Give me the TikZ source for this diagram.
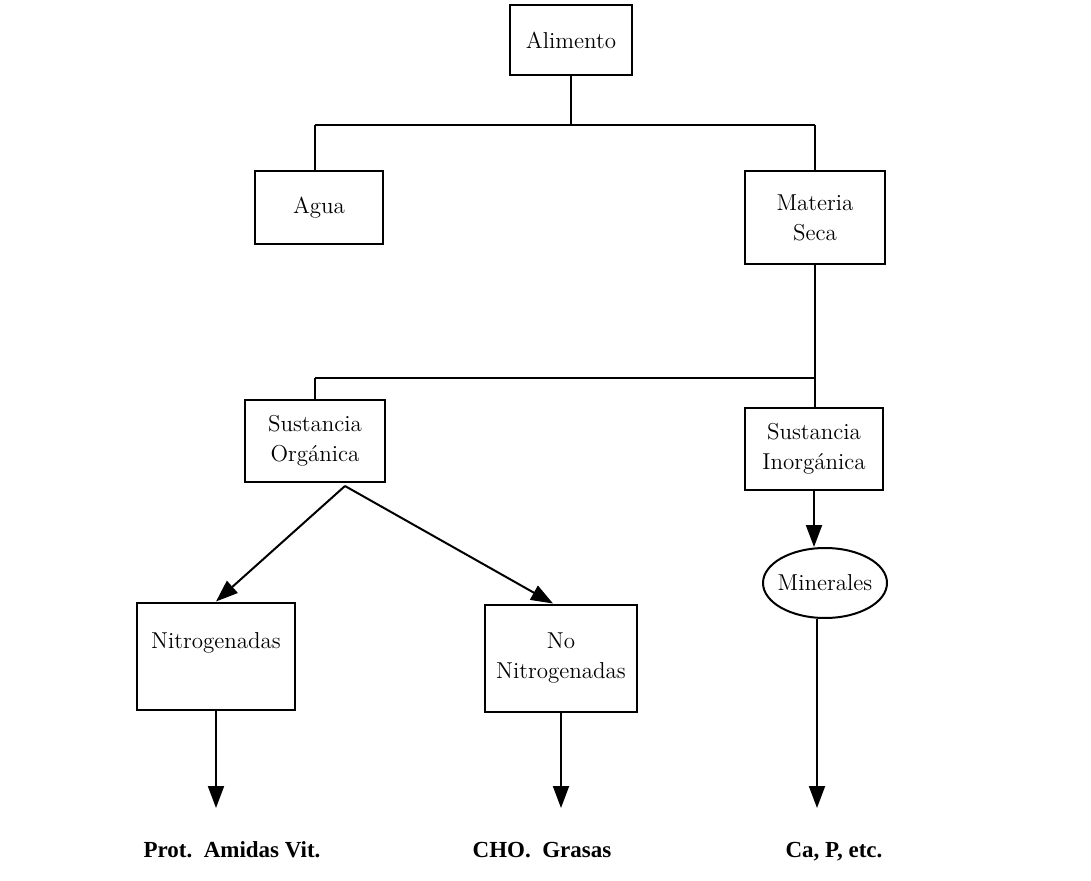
\documentclass[tikz,border=0pt]{standalone}
\usepackage{fontspec}
\newfontfamily\leaffont{Liberation Serif}
\usetikzlibrary{arrows.meta,shapes.geometric}
\begin{document}
\begin{tikzpicture}[x=0.5pt,y=-0.5pt,
  box/.style={draw,line width=1pt,rectangle,inner sep=0pt,align=center,
              font=\fontsize{11.5}{15}\selectfont},
  oval/.style={draw,line width=1pt,ellipse,inner sep=0pt,
              font=\fontsize{11.5}{15}\selectfont},
  link/.style={line width=1pt},
  arr/.style={line width=1pt,-{Triangle[length=11pt,width=8pt]}},
  leaf/.style={inner sep=0pt,anchor=base,font=\leaffont\bfseries\fontsize{11.5}{13}\selectfont}]
\useasboundingbox[fill=white] (0,0) rectangle (1091,881);

% boxes
\node[box,minimum width=61pt,minimum height=35pt]   (alim)  at (571,40)  {Alimento};
\node[box,minimum width=64pt,minimum height=36.5pt] (agua)  at (319,208) {Agua};
\node[box,minimum width=70pt,minimum height=46.5pt] (mat)   at (815,218) {Materia\\Seca};
\node[box,minimum width=70pt,minimum height=41pt]   (org)   at (315,441) {Sustancia\\Orgánica};
\node[box,minimum width=69pt,minimum height=41pt]   (inorg) at (814,449) {Sustancia\\Inorgánica};
\node[box,minimum width=79pt,minimum height=53.5pt] (nit)   at (216,656) {Nitrogenadas\\\mbox{}};
\node[box,minimum width=76pt,minimum height=53.5pt] (nonit) at (561,658) {No\\Nitrogenadas};
\node[oval,minimum width=62pt,minimum height=35pt]  (min)   at (825,583) {\makebox[36pt]{Minerales}};

% leaves
\node[leaf] (prot) at (232,857) {Prot.\ \ Amidas Vit.};
\node[leaf] (cho)  at (542,857) {CHO.\ \ Grasas};
\node[leaf] (ca)   at (834,857) {Ca, P, etc.};

% junction points
\coordinate (j1) at (571,125);
\coordinate (ja) at (315,125);
\coordinate (jm) at (815,125);
\coordinate (jo) at (315,378);
\coordinate (jb) at (815,378);
\coordinate (apex) at (345,486);
\coordinate (bot) at (0,808);

% tree lines
\draw[link] (alim.south) -- (j1);
\draw[link] (ja) -- (jm);
\draw[link] (ja) -- (ja |- agua.north);
\draw[link] (jm) -- (jm |- mat.north);
\draw[link] (mat.south) -- (jb);
\draw[link] (jo) -- (jb);
\draw[link] (jo) -- (org.north);
\draw[link] (jb) -- (jb |- inorg.north);

% arrows
\draw[arr] (apex) -- (nit.north);
\draw[arr] (apex) -- ([xshift=-4pt]nonit.north);
\draw[arr] (inorg.south) -- (inorg.south |- min.north);
\draw[arr] (nit.south) -- (nit.south |- bot);
\draw[arr] (nonit.south) -- (nonit.south |- bot);
\draw[arr] ([xshift=-4pt]min.south) -- ([xshift=-4pt]min.south |- bot);
\end{tikzpicture}
\end{document}
